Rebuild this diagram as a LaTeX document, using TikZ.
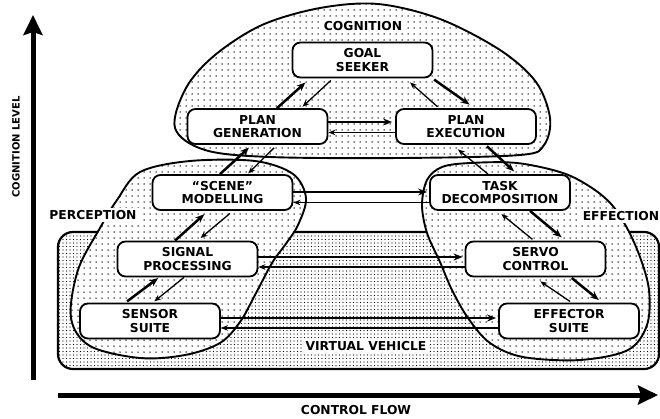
\documentclass[tikz,border=0pt]{standalone}
\usepackage{fontspec}
\setsansfont{DejaVu Sans}
\usetikzlibrary{arrows.meta,patterns.meta}
\newcommand{\boxfont}{\sffamily\bfseries\fontsize{12.3}{13.6}\selectfont}
\newcommand{\lblfont}{\sffamily\bfseries\fontsize{12.3}{13.6}\selectfont}
\newcommand{\axfont}{\sffamily\bfseries\fontsize{10}{12}\selectfont}
\begin{document}
\begin{tikzpicture}[x=1pt,y=-1pt,
  box/.style={draw, line width=1.8pt, rounded corners=8pt, fill=white,
    minimum width=140pt, minimum height=35pt, align=center, inner sep=0pt, font=\boxfont},
  lbl/.style={font=\lblfont, fill=white, inner sep=2pt},
  blob/.style={draw, line width=1.9pt, preaction={fill=white},
    pattern={Dots[distance=6pt,radius=0.75pt]}},
  vehicle/.style={draw, line width=2.2pt, rounded corners=15pt, preaction={fill=white},
    pattern={Dots[distance=3.5pt,radius=0.65pt]}},
  thk/.style={line width=2.5pt, -{Stealth[length=9pt,width=7pt]}},
  thn/.style={line width=1.3pt, -{Stealth[length=7pt,width=5.5pt]}},
  axis/.style={line width=5pt, -{Stealth[length=20pt,width=19pt,inset=3pt]}}]
\useasboundingbox (0,0) rectangle (660,418);

% axes
\coordinate (ybot) at (33,380);
\coordinate (ytop) at (33,15);
\coordinate (xlft) at (58,395);
\coordinate (xrgt) at (658,395);
\draw[axis] (ybot) -- (ytop);
\draw[axis] (xlft) -- (xrgt);
\node[font=\axfont, rotate=90, inner sep=0pt] (ylab) at (16,147) {COGNITION LEVEL};
\node[lbl] (xlab) at (356,410) {CONTROL FLOW};

% virtual vehicle
\draw[vehicle] (58,232) rectangle (659,369);

% perception blob
\draw[blob] plot[smooth cycle, tension=0.55] coordinates {(117,200) (140,172) (190,161) (255,161) (293,174) (306,198) (298,225) (285,245) (272,263) (255,295) (240,322) (220,343) (185,355) (140,358) (90,346) (71,318) (78,270) (100,228)};

% effection blob
\draw[blob] plot[smooth cycle, tension=0.55] coordinates {(427,180) (442,167) (470,163) (517,163) (563,173) (592,188) (612,205) (627,228) (640,257) (649,290) (647,325) (628,350) (580,360) (523,357) (490,343) (468,318) (452,290) (440,262) (427,233) (422,205)};

% cognition blob
\draw[blob] plot[smooth cycle, tension=0.55] coordinates {(175,128) (186,88) (215,55) (262,25) (320,8) (378,4) (440,19) (500,50) (536,82) (550,118) (544,145) (520,155) (400,158) (270,157) (205,150)};

% labels
\node[lbl] (lcog) at (363,26) {COGNITION};
\node[lbl] (lper) at (93,215) {PERCEPTION};
\node[lbl] (leff) at (621,216) {EFFECTION};
\node[lbl] (lveh) at (366,346) {VIRTUAL VEHICLE};

% boxes
\node[box] (gs) at (362.5,60)  {GOAL\\SEEKER};
\node[box] (pg) at (257.5,126.5) {PLAN\\GENERATION};
\node[box] (pe) at (466,126.5) {PLAN\\EXECUTION};
\node[box] (sm) at (222.5,192.5) {``SCENE''\\MODELLING};
\node[box] (td) at (500,192.5) {TASK\\DECOMPOSITION};
\node[box] (sp) at (187.5,259) {SIGNAL\\PROCESSING};
\node[box] (sc) at (535.5,259) {SERVO\\CONTROL};
\node[box] (ss) at (150,321) {SENSOR\\SUITE};
\node[box] (es) at (569,321) {EFFECTOR\\SUITE};

% diagonal arrows
\draw[thk, shorten >=6pt] ([xshift=19.5pt]pg.north) -- ([xshift=-52.5pt]gs.south);
\draw[thn, shorten <=3pt, shorten >=2pt] ([xshift=-29.5pt]gs.south) -- ([xshift=43.5pt]pg.north);
\draw[thk, shorten <=2pt, shorten >=6pt] ([xshift=70pt]gs.south) -- ([xshift=8.5pt]pe.north);
\draw[thn, shorten <=2pt, shorten >=6pt] ([xshift=-27pt]pe.north) -- ([xshift=43pt]gs.south);
\draw[thk, shorten >=4pt] ([xshift=-2.5pt]sm.north) -- ([xshift=-5.5pt]pg.south);
\draw[thn, shorten <=4pt, shorten >=1pt] ([xshift=19.5pt]pg.south) -- ([xshift=25pt]sm.north);
\draw[thk, shorten <=2pt, shorten >=4pt] ([xshift=19.5pt]pe.south) -- ([xshift=17pt]td.north);
\draw[thn, shorten >=7pt] ([xshift=-12pt]td.north) -- ([xshift=-13.5pt]pe.south);
\draw[thk, shorten >=5pt] ([xshift=-12.5pt]sp.north) -- ([xshift=-14.5pt]sm.south);
\draw[thn, shorten <=4pt, shorten >=4pt] ([xshift=10.5pt]sm.south) -- ([xshift=10pt]sp.north);
\draw[thk, shorten <=2pt, shorten >=1pt] ([xshift=-24.5pt]ss.north) -- ([xshift=-28.5pt]sp.south);
\draw[thn, shorten >=2pt] ([xshift=-3.5pt]sp.south) -- ([xshift=2.8pt]ss.north);
\draw[thk, shorten >=5pt] ([xshift=30pt]td.south) -- ([xshift=30pt]sc.north);
\draw[thn, shorten <=2pt, shorten >=5pt] ([xshift=-1.5pt]sc.north) -- ([xshift=-2.5pt]td.south);
\draw[thk, shorten <=1pt, shorten >=4pt] ([xshift=35.5pt]sc.south) -- ([xshift=33pt]es.north);
\draw[thn, shorten <=2pt, shorten >=7pt] ([xshift=2.7pt]es.north) -- ([xshift=-1pt]sc.south);

% horizontal arrows
\draw[thk, shorten >=3pt] ([yshift=4.5pt]pg.east) -- ([yshift=4.5pt]pe.west);
\draw[thn] ([yshift=-6pt]pe.west) -- ([yshift=-6pt]pg.east);
\draw[thk, shorten >=2pt] ([yshift=0.5pt]sm.east) -- ([yshift=0.5pt]td.west);
\draw[thn] ([yshift=-10pt]td.west) -- ([yshift=-10pt]sm.east);
\draw[thk, shorten >=2pt] ([yshift=2pt]sp.east) -- ([yshift=2pt]sc.west);
\draw[thn] ([yshift=-8pt]sc.west) -- ([yshift=-8pt]sp.east);
\draw[thk, shorten >=2pt] ([yshift=3pt]ss.east) -- ([yshift=3pt]es.west);
\draw[thn] ([yshift=-7pt]es.west) -- ([yshift=-7pt]ss.east);
\end{tikzpicture}
\end{document}
